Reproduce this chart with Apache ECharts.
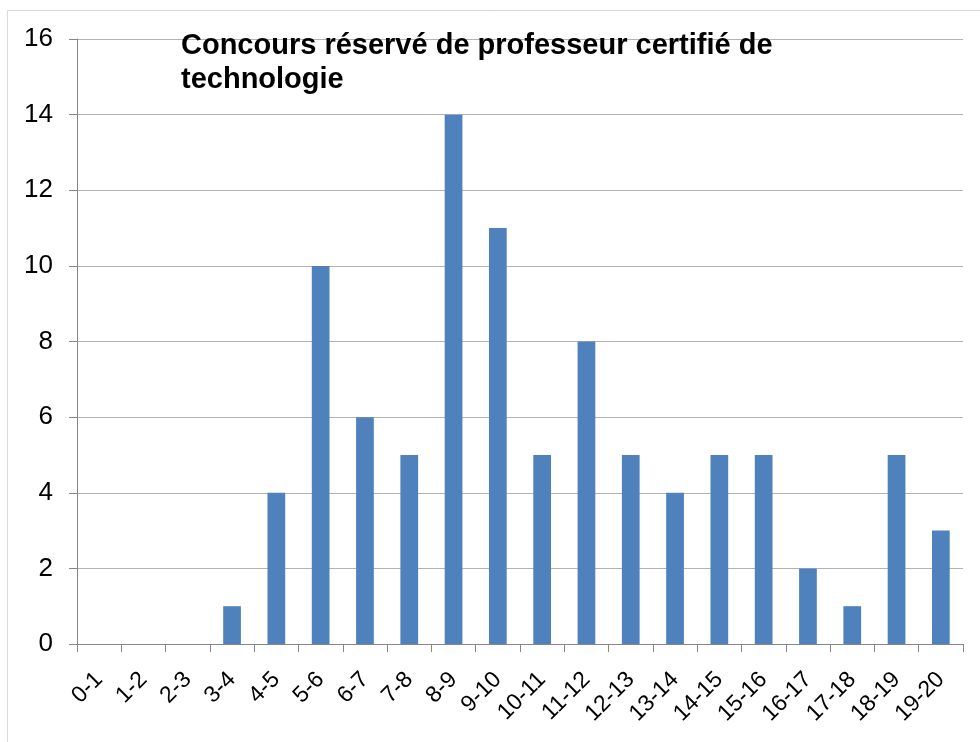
<!DOCTYPE html>
<html><head><meta charset="utf-8">
<script src="https://cdn.jsdelivr.net/npm/echarts@6/dist/echarts.min.js"></script>
<style>html,body{margin:0;padding:0;background:#fff}#c{width:980px;height:742px}</style>
</head><body><div id="c"></div>
<script>
const categories = ["0-1","1-2","2-3","3-4","4-5","5-6","6-7","7-8","8-9","9-10","10-11","11-12","12-13","13-14","14-15","15-16","16-17","17-18","18-19","19-20"];
const counts = [0,0,0,1,4,10,6,5,14,11,5,8,5,4,5,5,2,1,5,3];
const titleText = "Concours réservé de professeur certifié de\ntechnologie";

const chart = echarts.init(document.getElementById('c'));
chart.setOption({
  animation: false,
  backgroundColor: '#fff',
  graphic: [{type:'rect', shape:{x:7.5,y:10.5,width:990,height:760}, style:{fill:'none', stroke:'#d9d9d9', lineWidth:1}, z:-1}],
  title: {text: titleText, left: 181, top: 29, padding: 0, textStyle:{fontFamily:'Liberation Sans, Arial', fontWeight:'bold', fontSize:29, color:'#000', lineHeight:34}},
  grid: {left: 77, right: 17, top: 39, bottom: 98},
  xAxis: {type:'category', data: categories, boundaryGap: true,
    axisLine:{lineStyle:{color:'#868686', width:1}},
    axisTick:{show:true, length:8, alignWithLabel:false, lineStyle:{color:'#868686'}},
    axisLabel:{rotate:45, interval:0, margin:32, fontFamily:'Liberation Sans, Arial', fontSize:23, color:'#000'}},
  yAxis: {type:'value', min:0, max:16, interval:2,
    axisLine:{show:true, lineStyle:{color:'#868686'}},
    axisTick:{show:true, length:8, inside:false, lineStyle:{color:'#868686'}},
    splitLine:{lineStyle:{color:'#b3b3b3'}},
    axisLabel:{margin:24, fontFamily:'Liberation Sans, Arial', fontSize:26, color:'#000'}},
  series: [{type:'bar', data: counts, barWidth:'40%', itemStyle:{color:'#4f81bd'}}]
});
</script></body></html>
